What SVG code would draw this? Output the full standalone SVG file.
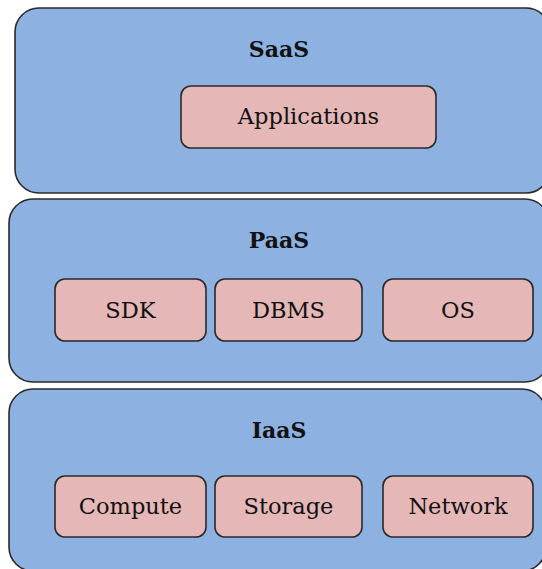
<svg xmlns="http://www.w3.org/2000/svg" width="542" height="569" viewBox="0 0 542 569">
<style>
.layer{fill:#8DB1E0;stroke:#2a2a2a;stroke-width:1.6}
.box{fill:#E5B7B7;stroke:#2a2a2a;stroke-width:1.6}
.title{font-family:"DejaVu Serif",serif;font-weight:bold;font-size:22px;fill:#111;text-anchor:middle}
.lbl{font-family:"DejaVu Serif",serif;font-size:22.5px;fill:#111;text-anchor:middle}
</style>
<rect width="542" height="569" fill="#ffffff"/>
<g id="saas">
<rect class="layer" x="15" y="8" width="535" height="185" rx="24" ry="24"/>
<text class="title" x="279" y="57">SaaS</text>
</g>
<g id="applications">
<rect class="box" x="181" y="86" width="255" height="62" rx="10" ry="10"/>
<text class="lbl" x="308.5" y="124">Applications</text>
</g>
<g id="paas">
<rect class="layer" x="9" y="199" width="540" height="183" rx="24" ry="24"/>
<text class="title" x="279" y="248">PaaS</text>
</g>
<g id="sdk">
<rect class="box" x="55" y="279" width="151" height="62" rx="10" ry="10"/>
<text class="lbl" x="130.5" y="318">SDK</text>
</g>
<g id="dbms">
<rect class="box" x="215" y="279" width="147" height="62" rx="10" ry="10"/>
<text class="lbl" x="288.5" y="318">DBMS</text>
</g>
<g id="os">
<rect class="box" x="383" y="279" width="150" height="62" rx="10" ry="10"/>
<text class="lbl" x="458" y="318">OS</text>
</g>
<g id="iaas">
<rect class="layer" x="9" y="389" width="537" height="182" rx="24" ry="24"/>
<text class="title" x="279" y="438">IaaS</text>
</g>
<g id="compute">
<rect class="box" x="55" y="476" width="151" height="61" rx="10" ry="10"/>
<text class="lbl" x="130.5" y="514">Compute</text>
</g>
<g id="storage">
<rect class="box" x="215" y="476" width="147" height="61" rx="10" ry="10"/>
<text class="lbl" x="288.5" y="514">Storage</text>
</g>
<g id="network">
<rect class="box" x="383" y="476" width="150" height="61" rx="10" ry="10"/>
<text class="lbl" x="458" y="514">Network</text>
</g>
<g id="connectors"></g>
</svg>
